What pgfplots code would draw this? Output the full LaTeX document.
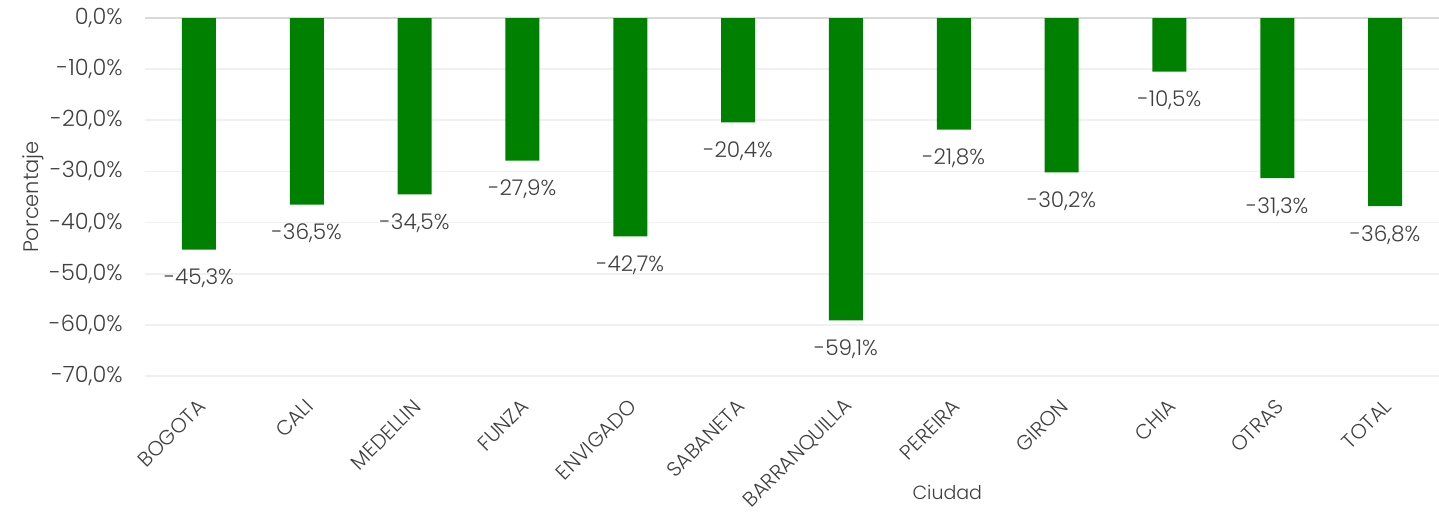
\documentclass[border=0pt]{standalone}
\usepackage{fontspec}
\setmainfont{Poppins}[UprightFont=* Light]
\usepackage{pgfplots}
\pgfplotsset{compat=1.18}
\definecolor{barg}{HTML}{008000}
\definecolor{txt}{HTML}{404040}
\begin{document}
\begin{tikzpicture}[x=1pt,y=1pt]
\path[use as bounding box] (0,0) rectangle (719.5,255.5);
\begin{axis}[
  at={(72.5pt,67.5pt)}, anchor=south west,
  scale only axis, width=647pt, height=179pt,
  xmin=-0.5, xmax=11.5, ymin=-70, ymax=0,
  axis line style={draw=none},
  ybar, bar width=17pt,
  xtick={0,...,11},
  xticklabels={BOGOTA,CALI,MEDELLIN,FUNZA,ENVIGADO,SABANETA,BARRANQUILLA,PEREIRA,GIRON,CHIA,OTRAS,TOTAL},
  xticklabel style={rotate=45, anchor=east, inner sep=0pt, yshift=-10.5pt, xshift=-8.5pt, font=\fontsize{10.3}{12}\selectfont, text=txt},
  ytick={-70,-60,...,0},
  yticklabel={\pgfmathprintnumber{\tick}\%},
  yticklabel style={font=\fontsize{11.2}{13}\selectfont, text=txt, inner sep=0pt, xshift=-11pt},
  /pgf/number format/.cd, fixed, fixed zerofill, precision=1, use comma, assume math mode=true,
  /pgfplots/.cd,
  major tick length=0pt,
  ymajorgrids, grid style={draw=black!6, line width=0.9pt},
  ylabel={Porcentaje}, ylabel style={font=\fontsize{10.5}{12}\selectfont, text=txt, at={(axis description cs:-0.0866,0.5)}, anchor=center},
  xlabel={Ciudad}, xlabel style={font=\fontsize{9.5}{11}\selectfont, text=txt, at={(axis description cs:0.62,0)}, anchor=north, yshift=-51pt},
  nodes near coords={\pgfmathprintnumber{\pgfplotspointmeta}\%},
  every node near coord/.append style={anchor=north, yshift=-9.5pt, inner sep=0pt, font=\fontsize{10.8}{13}\selectfont, text=txt},
  clip=false,
]
\draw[draw=black!15, line width=1pt] (axis cs:-0.5,0) -- (axis cs:11.5,0);
\addplot[fill=barg, draw=none] coordinates {
(0,-45.3) (1,-36.5) (2,-34.5) (3,-27.9) (4,-42.7) (5,-20.4)
(6,-59.1) (7,-21.8) (8,-30.2) (9,-10.5) (10,-31.3) (11,-36.8)};
\end{axis}
\end{tikzpicture}
\end{document}
